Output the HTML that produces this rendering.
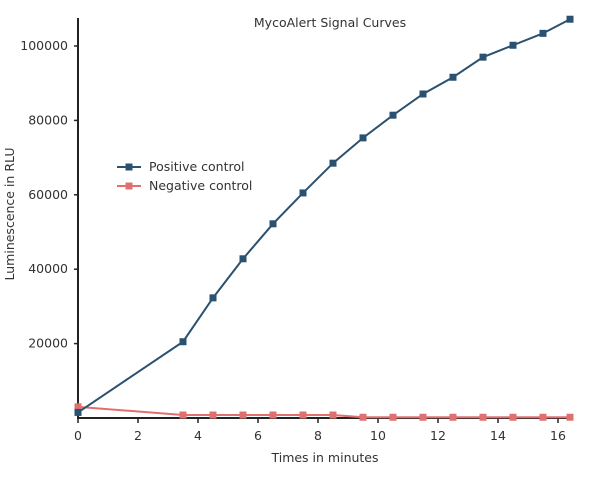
<!DOCTYPE html>
<html><head><meta charset="utf-8"><style>
body{margin:0;background:#fff;}
svg{display:block;font-family:"DejaVu Sans","Liberation Sans",sans-serif;}
</style></head><body>
<svg id="chart" width="600" height="487">
<text x="330" y="27" font-size="12.5" text-anchor="middle" fill="#333">MycoAlert Signal Curves</text>
<g id="axes"></g><g id="series"></g>
<g>
<g>
<line x1="117" y1="167" x2="141" y2="167" stroke="#2b5170" stroke-width="2"/><rect x="125.5" y="163.5" width="7" height="7" fill="#2b5170"/>
<text x="149" y="171" font-size="12.5" fill="#333">Positive control</text></g>
<g>
<line x1="117" y1="186" x2="141" y2="186" stroke="#e07070" stroke-width="2"/><rect x="125.5" y="182.5" width="7" height="7" fill="#e07070"/>
<text x="149" y="190" font-size="12.5" fill="#333">Negative control</text></g>
</g>
<text x="325" y="462" font-size="12.5" text-anchor="middle" fill="#333">Times in minutes</text>
<text transform="translate(14,214) rotate(-90)" font-size="12.5" text-anchor="middle" fill="#333">Luminescence in RLU</text>
</svg>
<script>
const xTicks=[0,2,4,6,8,10,12,14,16];
const yTicks=[20000,40000,60000,80000,100000];
const posX=[0,3.5,4.5,5.5,6.5,7.5,8.5,9.5,10.5,11.5,12.5,13.5,14.5,15.5,16.4];
const posY=[1500,20500,32300,42800,52200,60500,68500,75300,81400,87100,91600,97000,100200,103400,107200];
const negX=[0,3.5,4.5,5.5,6.5,7.5,8.5,9.5,10.5,11.5,12.5,13.5,14.5,15.5,16.4];
const negY=[3000,800,800,800,800,800,800,200,200,200,200,200,200,200,200];
const NS="http://www.w3.org/2000/svg";
const X0=78,XS=30,Y0=418,YS=37.2/10000;
function sx(v){return X0+v*XS;}
function sy(v){return Y0-v*YS;}
function mk(t,a,p){const e=document.createElementNS(NS,t);for(const k in a)e.setAttribute(k,a[k]);p.appendChild(e);return e;}
const ax=document.getElementById('axes');
const xl=mk('line',{x1:X0,y1:Y0,x2:573,y2:Y0,stroke:'#222','stroke-width':2},ax);


const yl=mk('line',{x1:X0,y1:Y0+1,x2:X0,y2:18,stroke:'#222','stroke-width':2},ax);


xTicks.forEach(v=>{
 mk('line',{x1:sx(v),y1:Y0,x2:sx(v),y2:Y0+5,stroke:'#222','stroke-width':1.5},ax);
 const t=mk('text',{x:sx(v),y:Y0+22,'font-size':12.5,'text-anchor':'middle',fill:'#333'},ax);
 t.textContent=v;
 
 
});
yTicks.forEach(v=>{
 mk('line',{x1:X0-4,y1:sy(v),x2:X0,y2:sy(v),stroke:'#222','stroke-width':1.5},ax);
 const t=mk('text',{x:X0-10,y:sy(v)+4,'font-size':12.5,'text-anchor':'end',fill:'#333'},ax);
 t.textContent=v;
 
 
});
const sg=document.getElementById('series');
function draw(xs,ys,c,name){
 const g=mk('g',{},sg);
 
 
 mk('polyline',{points:xs.map((x,i)=>sx(x)+','+sy(ys[i])).join(' '),fill:'none',stroke:c,'stroke-width':2},g);
 xs.forEach((x,i)=>{
  const r=mk('rect',{x:sx(x)-3.5,y:sy(ys[i])-3.5,width:7,height:7,fill:c},g);
  
  
 });
}
draw(negX,negY,'#e07070','negative-control-series');
draw(posX,posY,'#2b5170','positive-control-series');
</script>
</body></html>
